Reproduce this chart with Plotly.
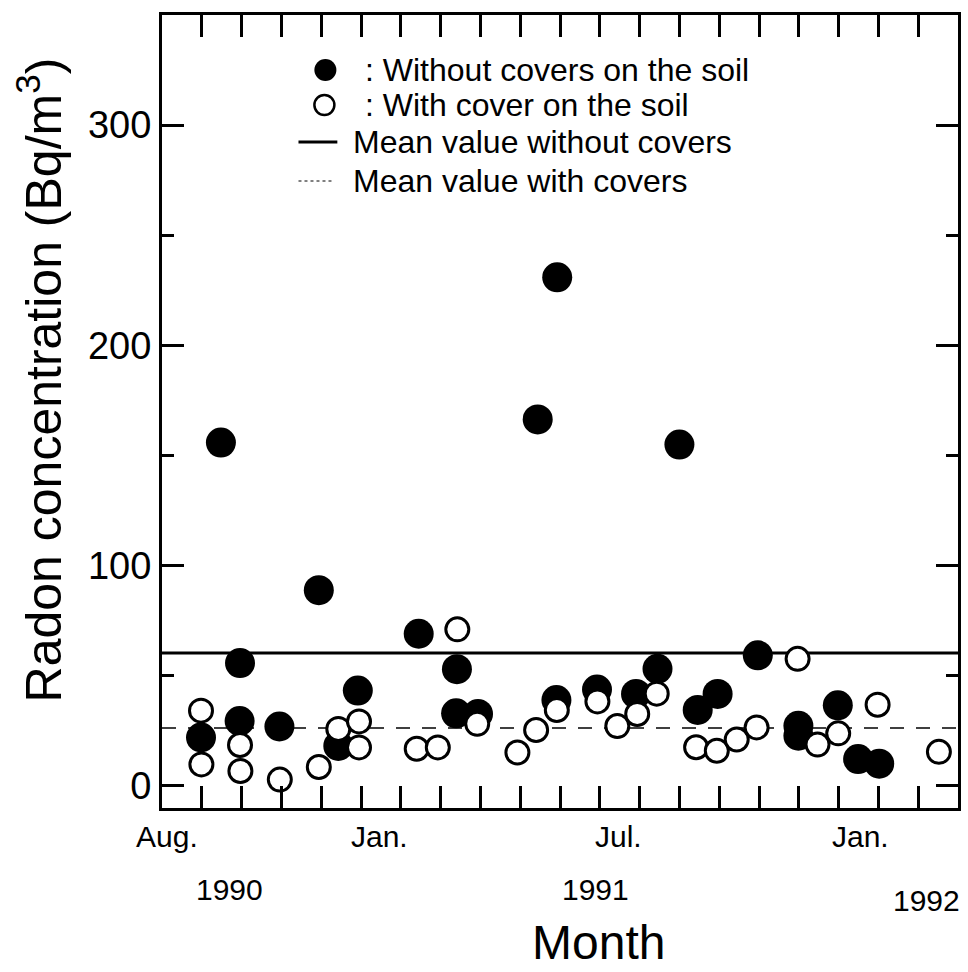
import plotly.graph_objects as go

# ---- data (x = months since 1 Aug 1990, y = Bq/m3) ----
filled_month = [0.98, 1.48, 1.96, 1.95, 2.95, 3.94, 4.43, 4.92, 6.45, 7.41, 7.39, 7.94,
                9.44, 9.93, 9.91, 10.93, 11.91, 12.45, 13.0, 13.46, 13.96, 14.97, 15.99,
                15.99, 16.98, 17.49, 18.02]
filled_value = [22.0, 155.9, 55.8, 29.5, 27.0, 88.9, 18.2, 43.3, 69.1, 53.0, 33.0, 32.7,
                166.4, 230.9, 39.0, 43.8, 41.8, 53.2, 155.0, 34.5, 41.8, 59.3, 27.3,
                22.8, 36.6, 12.2, 10.1]
open_month = [0.98, 0.99, 1.96, 1.97, 2.96, 3.94, 4.43, 4.95, 4.95, 6.40, 6.93, 7.42, 7.92,
              8.93, 9.40, 9.92, 10.94, 11.44, 11.94, 12.43, 13.42, 13.94, 14.44, 14.94,
              15.97, 16.47, 16.99, 17.98, 19.52]
open_value = [34.2, 9.8, 18.6, 6.8, 2.9, 8.6, 25.9, 29.3, 17.5, 16.9, 17.5, 71.1, 28.2,
              15.2, 25.4, 34.5, 38.4, 27.2, 32.7, 41.9, 17.6, 16.0, 21.1, 26.6,
              57.7, 18.8, 23.9, 36.9, 15.5]
mean_without = 60.4
mean_with = 26.3

x_range = [0, 20]
y_range = [-10, 350]
month_ticks = list(range(1, 20))
y_major = [0, 100, 200, 300]
y_minor = [50, 150, 250]

month_label_pos = [0.13, 5.46, 11.46, 17.55]
month_labels = ["Aug.", "Jan.", "Jul.", "Jan."]
year_label_pos = [1.70, 10.89, 19.22]
year_labels = ["1990", "1991", "1992"]

legend_labels = [": Without covers on the soil", ": With cover on the soil",
                 "Mean value without covers", "Mean value with covers"]

FONT = "Liberation Sans, Arial, Helvetica, sans-serif"

fig = go.Figure()

fig.add_trace(go.Scatter(x=x_range, y=[mean_without, mean_without], mode="lines",
                         line=dict(color="black", width=3), showlegend=False,
                         hoverinfo="skip"))
fig.add_trace(go.Scatter(x=x_range, y=[mean_with, mean_with], mode="lines",
                         line=dict(color="black", width=1.5, dash="14px,12px"),
                         showlegend=False, hoverinfo="skip"))
fig.add_trace(go.Scatter(x=filled_month, y=filled_value, mode="markers",
                         marker=dict(symbol="circle", size=30, color="black",
                                     line=dict(width=0)),
                         showlegend=False, cliponaxis=False))
fig.add_trace(go.Scatter(x=open_month, y=open_value, mode="markers",
                         marker=dict(symbol="circle", size=23, color="white",
                                     line=dict(width=3, color="black")),
                         showlegend=False, cliponaxis=False))

L, R, T, B = 162, 7, 15, 164
W, H = 968, 972
pw, ph = W - L - R, H - T - B


def px(xp):
    return (xp - L) / pw


def py(yp):
    return (H - B - yp) / ph


annotations = []
for pos, lab in zip(month_label_pos, month_labels):
    annotations.append(dict(x=pos, y=py(837), xref="x", yref="paper", text=lab,
                            showarrow=False, xanchor="center", yanchor="middle",
                            font=dict(family=FONT, size=30, color="black")))
year_y = [889, 889, 900]
for pos, lab, yy in zip(year_label_pos, year_labels, year_y):
    annotations.append(dict(x=pos, y=py(yy), xref="x", yref="paper", text=lab,
                            showarrow=False, xanchor="center", yanchor="middle",
                            font=dict(family=FONT, size=30, color="black")))
annotations.append(dict(x=px(600), y=py(943), xref="paper", yref="paper", text="Month",
                        showarrow=False, xanchor="center", yanchor="middle",
                        font=dict(family=FONT, size=48, color="black")))
annotations.append(dict(x=px(40), y=py(380), xref="paper", yref="paper",
                        text="Radon concentration (Bq/m<sup>3</sup>)", textangle=-90,
                        showarrow=False, xanchor="center", yanchor="middle",
                        font=dict(family=FONT, size=50, color="black")))

leg_rows = [70, 105, 142, 181]
leg_text_x = [364, 364, 352, 352]
for lab, yy, xx in zip(legend_labels, leg_rows, leg_text_x):
    annotations.append(dict(x=px(xx), y=py(yy), xref="paper", yref="paper", text=lab,
                            showarrow=False, xanchor="left", yanchor="middle",
                            font=dict(family=FONT, size=32, color="black")))

shapes = [
    dict(type="circle", xref="paper", yref="paper", xsizemode="pixel", ysizemode="pixel",
         xanchor=px(326), yanchor=py(leg_rows[0]), x0=-11, x1=11, y0=-11, y1=11,
         fillcolor="black", line=dict(width=0)),
    dict(type="circle", xref="paper", yref="paper", xsizemode="pixel", ysizemode="pixel",
         xanchor=px(325), yanchor=py(leg_rows[1]), x0=-10, x1=10, y0=-10, y1=10,
         fillcolor="white", line=dict(width=2.5, color="black")),
    dict(type="line", xref="paper", yref="paper", x0=px(299), x1=px(338),
         y0=py(leg_rows[2]), y1=py(leg_rows[2]), line=dict(width=3, color="black")),
    dict(type="line", xref="paper", yref="paper", x0=px(299), x1=px(335),
         y0=py(leg_rows[3]), y1=py(leg_rows[3]), line=dict(width=1, color="black", dash="dot")),
]

fig.update_layout(
    width=W, height=H,
    margin=dict(l=L, r=R, t=T, b=B, pad=0),
    paper_bgcolor="white", plot_bgcolor="white",
    showlegend=False,
    annotations=annotations,
    shapes=shapes,
    font=dict(family=FONT, color="black"),
)
fig.update_xaxes(range=x_range, tickvals=month_ticks, ticks="inside", ticklen=22,
                 tickwidth=2.5, tickcolor="black", showticklabels=False,
                 showline=True, linewidth=3, linecolor="black", mirror="allticks",
                 showgrid=False, zeroline=False)
fig.update_yaxes(range=y_range, tickvals=y_major, ticks="inside", ticklen=22,
                 tickwidth=2.5, tickcolor="black",
                 tickfont=dict(family=FONT, size=38, color="black"),
                 minor=dict(tickvals=y_minor, ticks="inside", ticklen=12, tickwidth=2.5,
                            tickcolor="black", showgrid=False),
                 showline=True, linewidth=3, linecolor="black", mirror="allticks",
                 showgrid=False, zeroline=False)

fig.write_html("out.html")
